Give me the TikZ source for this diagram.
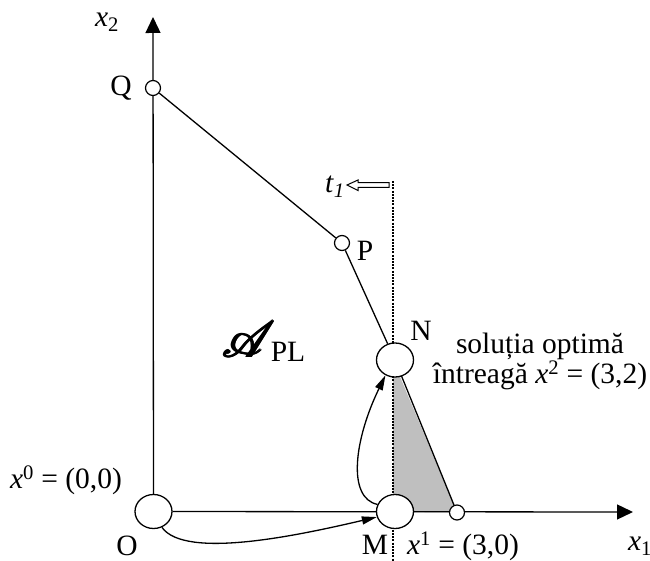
\documentclass[tikz,border=0pt]{standalone}
\usepackage{fontspec}
\setmainfont{Liberation Serif}
\usepackage{mathrsfs}
\usetikzlibrary{arrows.meta,shapes.geometric}
\pgfdeclarelayer{background}
\pgfsetlayers{background,main}
\newcommand{\myfakebold}[1]{\makebox[0pt][l]{#1}\makebox[0pt][l]{\hspace{0.4pt}#1}\makebox[0pt][l]{\hspace{0.8pt}#1}\makebox[0pt][l]{\hspace{0.4pt}\raisebox{0.4pt}{#1}}\makebox[0pt][l]{\hspace{1.2pt}#1}\hspace{1.2pt}\phantom{#1}}
\begin{document}
\begin{tikzpicture}[x=1pt,y=-1pt,
  big/.style={ellipse,draw,fill=white,line width=1.3pt,minimum width=37pt,minimum height=34pt,inner sep=0pt},
  small/.style={circle,draw,fill=white,line width=1.2pt,minimum size=15pt,inner sep=0pt},
  lbl/.style={inner sep=0pt,font=\fontsize{29.5}{26}\selectfont},
  edge/.style={line width=1.3pt},
  axis/.style={line width=1.3pt,-{Triangle[length=16pt,width=15pt]}},
  move/.style={line width=1.3pt,-{Triangle[length=15pt,width=8pt]}},
  dotline/.style={line width=2pt,dash pattern=on 2pt off 1.2pt},
]
\useasboundingbox (0,0) rectangle (650,561);
% nodes
\node[big] (O) at (153.5,511.5) {};
\node[big] (M) at (395,511.5) {};
\node[big] (N) at (395,360) {};
\node[small] (Q) at (153,88) {};
\node[small] (P) at (342,243) {};
\node[small] (S) at (457,512.5) {};
\coordinate (top) at (153,17);
\coordinate (right) at (633,512);
\coordinate (dtop) at (393,181);
\coordinate (dbot) at (393,561);
\begin{pgfonlayer}{background}
\fill[gray!50] (393,360) -- (393,512) -- (S.center) -- cycle;
\draw[dotline] (dtop) -- (dbot);
\draw[axis] (O) -- (top);
\draw[axis] (O) -- (right);
\draw[edge] (Q) -- (P) -- (N);
\draw[edge] (N.center) -- (S.center);
\end{pgfonlayer}
% moves
\draw[move] (O.-62) .. controls (185,560) and (300,535) .. (M.197);
\draw[move] (M.158) .. controls (347,498) and (354,440) .. (N.238);
% t1 hollow arrow
\draw[line width=1pt,line join=miter] (389,182.7) -- (358,182.7) -- (358,180) -- (347,185) -- (358,190.5) -- (358,187.3) -- (389,187.3) -- cycle;
% labels
\node[lbl] (lx2) at (107,22) {\textit{x}\textsubscript{2}};
\node[lbl] (lQ) at (121,88) {Q};
\node[lbl] (lP) at (365,251) {P};
\node[lbl] (lN) at (421,331) {N};
\node[lbl] (lt1) at (335,187) {\textit{t}\textsubscript{\textit{1}}};
\node[lbl] (lA) at (249,339) {\scalebox{2.05}{\myfakebold{$\mathscr{A}$}}};
\node[lbl] (lPL) at (288,352) {PL};
\node[lbl,align=center] (lsol) at (540,361) {soluția optimă\\întreagă \textit{x}\textsuperscript{2} = (3,2)};
\node[lbl] (lx0) at (66,480) {\textit{x}\textsuperscript{0} = (0,0)};
\node[lbl] (lO) at (127,546) {O};
\node[lbl] (lM) at (375,545) {M};
\node[lbl] (lx1v) at (463,546) {\textit{x}\textsuperscript{1} = (3,0)};
\node[lbl] (lx1) at (640,546) {\textit{x}\textsubscript{1}};
\end{tikzpicture}
\end{document}
